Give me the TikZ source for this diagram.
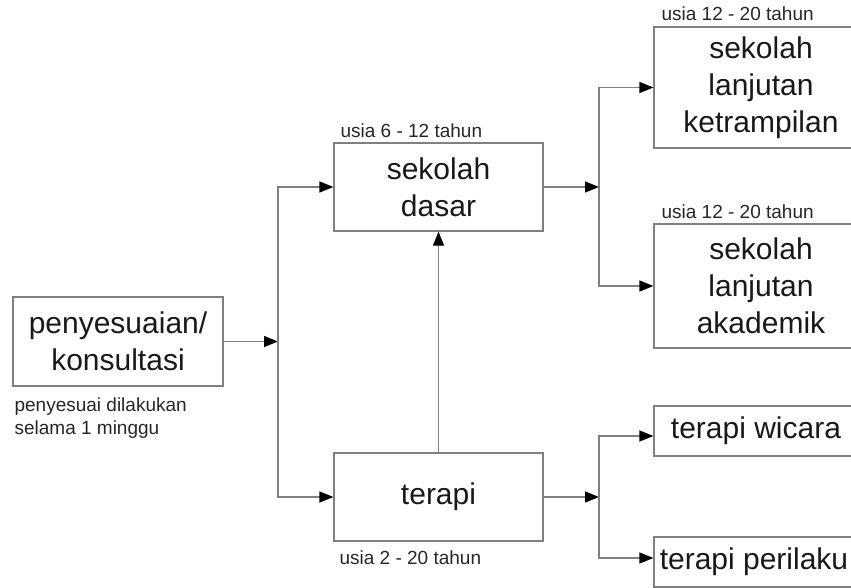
\documentclass[tikz,border=0pt]{standalone}
\usepackage{fontspec}
\setmainfont{Liberation Sans}
\usetikzlibrary{arrows.meta,calc}

\tikzset{
  kotak/.style={draw=gray, line width=1.2pt, inner sep=0pt, align=center,
    text=black!90, font=\fontsize{30}{37}\selectfont},
  panah/.style={draw=gray, line width=1.2pt,
    -{Triangle[length=14pt,width=11pt,color=black]}},
  catatan/.style={inner sep=0pt, align=left, text=black!85,
    font=\fontsize{19}{23}\selectfont}
}

\begin{document}
\begin{tikzpicture}[x=1pt,y=-1pt]
  \useasboundingbox (0,0) rectangle (851,588);
  \clip (0,0) rectangle (851,588);
  % kotak-kotak
  \node[kotak, minimum width=210pt, minimum height=89pt] (sesuai) at (118,341.5) {penyesuaian/\\konsultasi};
  \node[kotak, minimum width=209pt, minimum height=88pt] (dasar) at (438.5,187) {sekolah\\dasar};
  \node[kotak, minimum width=209pt, minimum height=88pt] (terapi) at (438.5,497) {terapi};
  \node[kotak, minimum width=214pt, minimum height=121pt] (trampil) at (761,87.5) {sekolah\\lanjutan\\ketrampilan};
  \node[kotak, minimum width=214pt, minimum height=124pt] (akademik) at (761,286) {sekolah\\lanjutan\\akademik};
  \node[kotak, minimum width=204pt, minimum height=50pt] (wicara) at (756,431) {terapi wicara};
  \node[kotak, minimum width=200pt, minimum height=50pt] (perilaku) at (754,562) {terapi perilaku};
  % keterangan usia
  \node[catatan, anchor=base west] (usiadasar) at ([xshift=7pt,yshift=5pt]dasar.north west) {usia 6 - 12 tahun};
  \node[catatan, anchor=base west] (usiaterapi) at ([xshift=6pt,yshift=-23pt]terapi.south west) {usia 2 - 20 tahun};
  \node[catatan, anchor=base west] (usiatrampil) at ([xshift=8pt,yshift=6pt]trampil.north west) {usia 12 - 20 tahun};
  \node[catatan, anchor=base west] (usiaakademik) at ([xshift=8pt,yshift=5pt]akademik.north west) {usia 12 - 20 tahun};
  \node[catatan, anchor=north west] (lama) at ([xshift=2pt,yshift=-11pt]sesuai.south west) {penyesuai dilakukan\\selama 1 minggu};
  % percabangan
  \coordinate (j1) at (278,341.5);
  \coordinate (j2) at (599,187);
  \coordinate (j3) at (599,497);
  \draw[panah] (sesuai.east) -- (j1);
  \draw[panah] (j1) |- (dasar.west);
  \draw[panah] (j1) |- (terapi.west);
  \draw[panah] (terapi.north) -- (dasar.south);
  \draw[panah] (dasar.east) -- (j2);
  \draw[panah] (j2) |- (trampil.west);
  \draw[panah] (j2) |- (akademik.west);
  \draw[panah] (terapi.east) -- (j3);
  \draw[panah] (j3) |- ([yshift=-5pt]wicara.west);
  \draw[panah] (j3) |- ([yshift=4pt]perilaku.west);
\end{tikzpicture}
\end{document}
